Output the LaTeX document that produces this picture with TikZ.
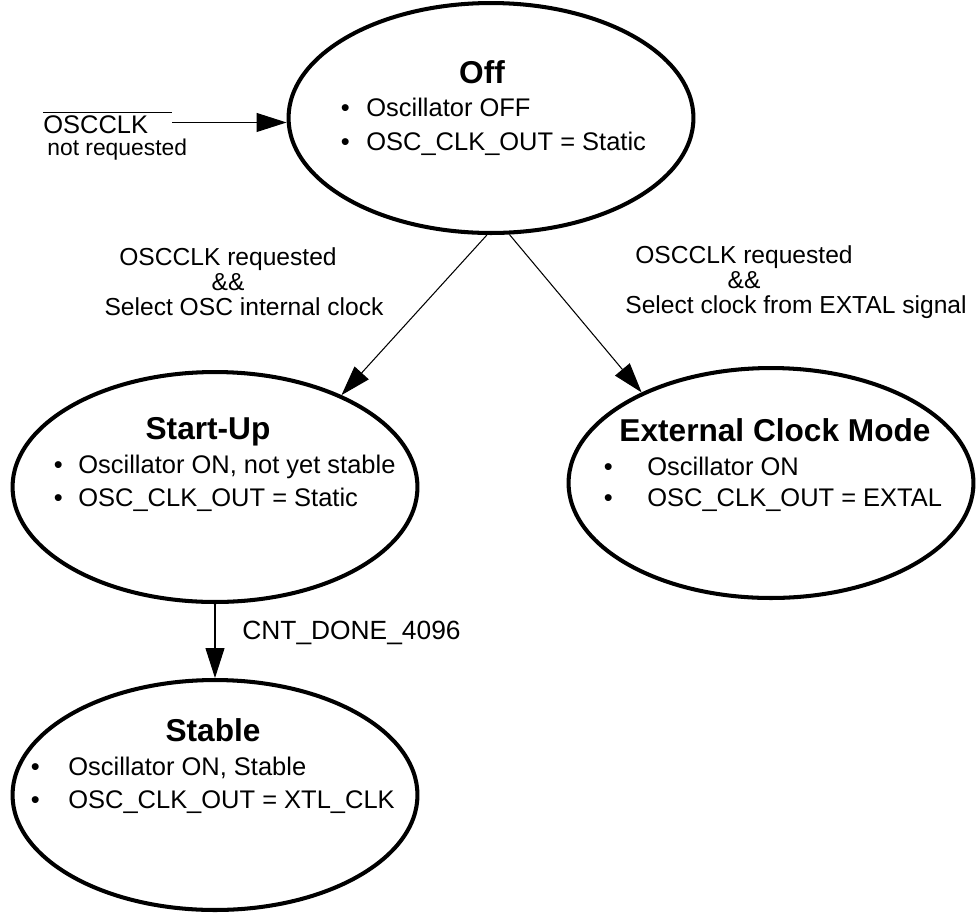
\documentclass[tikz,border=0pt]{standalone}
\usepackage{fontspec}
\setmainfont{Liberation Sans}
\usepackage{tikz}
\usetikzlibrary{shapes.geometric, arrows.meta, positioning}
\newcommand{\dotgap}[1]{\makebox[#1][l]{\textbullet}}
\tikzset{
  statebox/.style={ellipse, draw, line width=2.3pt,
    minimum width=8.1cm, minimum height=4.6cm, inner sep=0pt},
  stitle/.style={font=\fontsize{18}{21}\selectfont\bfseries,
    inner sep=0pt, anchor=base},
  sline/.style={font=\fontsize{14.5}{17}\selectfont,
    inner sep=0pt, anchor=base west},
  cond/.style={font=\fontsize{14}{14.2}\selectfont, align=center,
    inner sep=0pt},
  arrow/.style={-{Triangle[length=0.6cm,width=0.38cm]}, line width=0.6pt}
}
\begin{document}
\begin{tikzpicture}[x=0.02cm, y=-0.02cm]
  \useasboundingbox (0,0) rectangle (977,914);
  \node[statebox] (off)     at (491,118) {};
  \node[statebox] (startup) at (215,487) {};
  \node[statebox] (ext)     at (771,483) {};
  \node[statebox] (stable)  at (215,795) {};

  \node[stitle] (offT) at (482,83) {Off};
  \node[sline]  (offA) at (340.5,116) {\dotgap{0.51cm}Oscillator OFF};
  \node[sline]  (offB) at (340.5,150) {\dotgap{0.51cm}OSC\_CLK\_OUT = Static};

  \node[stitle] (startupT) at (208,439) {Start-Up};
  \node[sline]  (startupA) at (53.5,473) {\dotgap{0.49cm}Oscillator ON, not yet stable};
  \node[sline]  (startupB) at (53.5,506) {\dotgap{0.49cm}OSC\_CLK\_OUT = Static};

  \node[stitle] (extT) at (775,441) {External Clock Mode};
  \node[sline]  (extA) at (603.5,475) {\dotgap{0.87cm}Oscillator ON};
  \node[sline]  (extB) at (603.5,506) {\dotgap{0.87cm}OSC\_CLK\_OUT = EXTAL};

  \node[stitle] (stableT) at (213,741) {Stable};
  \node[sline]  (stableA) at (30.5,775) {\dotgap{0.75cm}Oscillator ON, Stable};
  \node[sline]  (stableB) at (30.5,808) {\dotgap{0.75cm}OSC\_CLK\_OUT = XTL\_CLK};

  \node[sline] (oscreq) at (43,133) {$\overline{\mbox{OSCCLK}\hspace{0.48cm}}$};
  \node[sline, font=\fontsize{13}{15}\selectfont] (notreq) at (47,155) {not requested};
  \node[cond] (condint) at (228,282) {OSCCLK requested\\\&\&\\\hspace*{0.64cm}Select OSC internal clock};
  \node[cond] (condext) at (744,282) {OSCCLK requested\\\&\&\\\hspace*{2.08cm}Select clock from EXTAL signal};
  \node[sline, font=\fontsize{15}{18}\selectfont] (cntdone) at (242,639.5) {CNT\_DONE\_4096};

  \draw[arrow] (oscreq.east) -- (oscreq.east -| off.west);
  \draw[arrow] (off.-92) -- (startup.36);
  \draw[arrow] (off.-81) -- (ext.145);
  \draw[arrow] (startup.south) -- (stable.north);
\end{tikzpicture}
\end{document}
